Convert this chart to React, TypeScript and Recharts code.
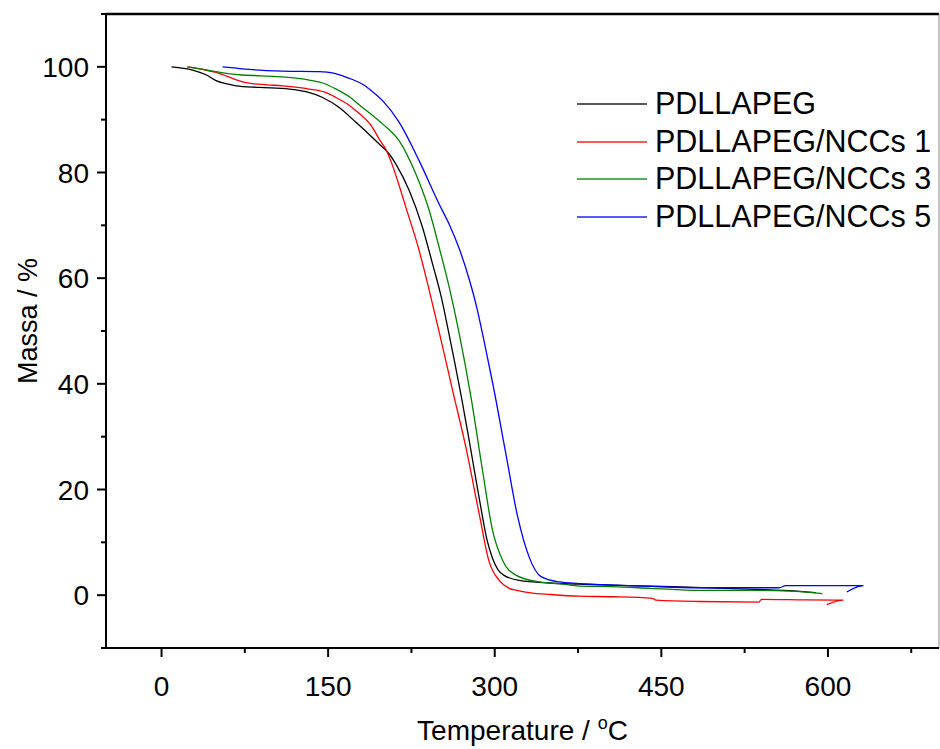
import { Legend, Line, LineChart, ReferenceLine, XAxis, YAxis } from "recharts";

type Pt = { t: number; m: number };

const toPts = (rows: number[][]): Pt[] => rows.map(([t, m]) => ({ t, m }));

// PDLLAPEG
const pdllapeg = toPts([
  [9, 100], [28, 99.4], [40, 98.5], [49, 97.4], [58, 96.8], [67, 96.4], [88, 96.1], [115, 95.8],
  [130, 95.3], [145, 94.2], [160, 92.3], [175, 89.5], [186, 87.4], [196, 85.4], [205, 83.5],
  [211, 81.6], [223, 76.6], [235, 69.6], [244, 62.7], [252, 56.3], [258, 50.3], [264, 44],
  [270, 37.5], [276, 30.5], [282, 23.2], [288, 16], [293, 10.5], [298, 7], [303, 4.8], [308, 3.8],
  [322, 2.8], [349, 2.3], [376, 2.1], [420, 1.8], [460, 1.6], [500, 1.35], [535, 1.1], [560, 0.9],
  [589, 0.5],
]);

// PDLLAPEG/NCCs 1
const nccs1 = toPts([
  [24, 100], [37, 99.5], [48, 99], [58, 98.3], [68, 97.5], [79, 96.9], [95, 96.6], [109, 96.4],
  [133, 95.8], [147, 95.2], [157, 94.2], [167, 93], [175, 91.7], [190, 88.5], [196, 86.3],
  [202, 84.4], [208, 81.3], [214, 77.5], [220, 73.4], [232, 65.2], [241, 57.7], [250, 49.8],
  [262, 38.8], [274, 28], [286, 15.4], [295, 6.3], [304, 2.8], [313, 1.3], [320, 0.9], [334, 0.4],
  [346, 0.2], [376, -0.2], [406, -0.3], [442, -0.6], [445, -0.95], [484, -1.2], [538, -1.3],
  [540, -0.8], [580, -0.9], [614, -0.95], [599, -1.8],
]);

// PDLLAPEG/NCCs 3
const nccs3 = toPts([
  [23, 100], [35, 99.6], [49, 99.1], [60, 98.7], [70, 98.5], [90, 98.3], [109, 98.1], [133, 97.5],
  [147, 96.8], [157, 95.8], [170, 94.2], [181, 92.3], [190, 90.8], [199, 89.2], [214, 86],
  [229, 79.7], [241, 72.8], [250, 65.8], [259, 58.3], [268, 49.5], [278.6, 37.5], [289, 23.6],
  [298, 12.3], [307, 6.6], [319, 3.8], [340, 2.5], [361, 2.1], [376, 1.7], [406, 1.6], [440, 1.3],
  [484, 0.9], [535, 0.9], [566, 0.75], [595, 0.3],
]);

// PDLLAPEG/NCCs 5
const nccs5 = toPts([
  [55, 100], [65, 99.8], [79, 99.5], [109, 99.2], [142, 99.1], [155, 98.8], [163, 98.3], [172, 97.6],
  [181, 96.7], [190, 95.3], [199, 93.6], [214, 89.5], [232, 82.2], [250, 74], [259, 70.2],
  [268, 65.6], [277, 59.8], [284, 54.3], [290, 48.5], [298, 40.3], [310, 26.8], [320.7, 14.8],
  [331, 7.2], [341.7, 3.5], [358, 2.5], [376, 2.2], [436, 1.7], [484, 1.4], [556, 1.4], [562, 1.8],
  [632, 1.8], [617, 0.6],
]);

const series = [
  { name: "PDLLAPEG", color: "#000000", data: pdllapeg },
  { name: "PDLLAPEG/NCCs 1", color: "#ff0000", data: nccs1 },
  { name: "PDLLAPEG/NCCs 3", color: "#008000", data: nccs3 },
  { name: "PDLLAPEG/NCCs 5", color: "#0000ff", data: nccs5 },
];

const xTicks = [0, 75, 150, 225, 300, 375, 450, 525, 600, 675];
const xMajor = [0, 150, 300, 450, 600];
const yTicks = [-10, 0, 10, 20, 30, 40, 50, 60, 70, 80, 90, 100, 110];
const yMajor = [0, 20, 40, 60, 80, 100];

const FONT = "'Liberation Sans', Arial, Helvetica, sans-serif";

const XTick = (props: any) => {
  const { x, y, payload } = props;
  const major = xMajor.includes(payload.value);
  return (
    <g>
      <line x1={x} y1={y} x2={x} y2={y + (major ? 9 : 5)} stroke="#000" strokeWidth={2} />
      {major && (
        <text x={x} y={y + 48} textAnchor="middle" fontSize={28} fontFamily={FONT} fill="#000">
          {payload.value}
        </text>
      )}
    </g>
  );
};

const YTick = (props: any) => {
  const { x, y, payload } = props;
  const major = yMajor.includes(payload.value);
  return (
    <g>
      <line x1={x} y1={y} x2={x - (major ? 9 : 5)} y2={y} stroke="#000" strokeWidth={2} />
      {major && (
        <text x={x - 17} y={y + 10} textAnchor="end" fontSize={28} fontFamily={FONT} fill="#000">
          {payload.value}
        </text>
      )}
    </g>
  );
};

const XLabel = (props: any) => {
  const vb = props.viewBox || { x: 106, y: 648, width: 833 };
  const cx = vb.x + vb.width / 2;
  return (
    <text x={cx} y={vb.y + 92} textAnchor="middle" fontSize={28} fontFamily={FONT} fill="#000">
      <tspan>Temperature / </tspan>
      <tspan dy={-11} fontSize={18}>o</tspan>
      <tspan dy={11}>C</tspan>
    </text>
  );
};

const YLabel = (props: any) => {
  const vb = props.viewBox || { x: 0, y: 14, height: 634 };
  const cx = vb.x + 28;
  const cy = vb.y + vb.height / 2 - 10;
  return (
    <text x={cx} y={cy} transform={`rotate(-90 ${cx} ${cy})`} textAnchor="middle" dominantBaseline="central" fontSize={27} fontFamily={FONT} fill="#000">
      Massa / %
    </text>
  );
};

const LegendBox = () => (
  <div style={{ fontFamily: FONT, fontSize: 30.5, color: "#000" }}>
    {series.map((s) => (
      <div key={s.name} style={{ display: "flex", alignItems: "center", height: 37.7 }}>
        <div style={{ width: 70, borderTop: `2px solid ${s.color}`, opacity: 0.65, marginRight: 8 }} />
        <span style={{ lineHeight: "37.7px", whiteSpace: "nowrap" }}>{s.name}</span>
      </div>
    ))}
  </div>
);

export default function App() {
  return (
    <div style={{ position: "absolute", left: 0, top: 0, width: 940, height: 749, background: "#fff" }}>
      <LineChart width={940} height={749} margin={{ top: 14, right: 1, bottom: 0, left: 0 }}>
        <XAxis
          dataKey="t"
          type="number"
          domain={[-50, 700]}
          ticks={xTicks}
          interval={0}
          tickSize={0}
          tickMargin={0}
          tickLine={false}
          tick={<XTick />}
          height={101}
          axisLine={{ stroke: "#000", strokeWidth: 2 }}
          label={<XLabel />}
          allowDataOverflow
        />
        <YAxis
          type="number"
          domain={[-10, 110]}
          ticks={yTicks}
          interval={0}
          tickSize={0}
          tickMargin={0}
          tickLine={false}
          tick={<YTick />}
          width={106}
          axisLine={{ stroke: "#000", strokeWidth: 2 }}
          label={<YLabel />}
          allowDataOverflow
        />
        <ReferenceLine y={110} stroke="#000" strokeWidth={2.5} />
        <ReferenceLine x={700} stroke="#888" strokeWidth={1} />
        {series.map((s) => (
          <Line
            key={s.name}
            data={s.data}
            dataKey="m"
            name={s.name}
            type="monotone"
            stroke={s.color}
            strokeWidth={1.3}
            dot={false}
            activeDot={false}
            isAnimationActive={false}
          />
        ))}
        <Legend
          layout="vertical"
          align="center"
          verticalAlign="middle"
          wrapperStyle={{ left: 577, top: 85, width: 360 }}
          content={() => <LegendBox />}
        />
      </LineChart>
    </div>
  );
}
